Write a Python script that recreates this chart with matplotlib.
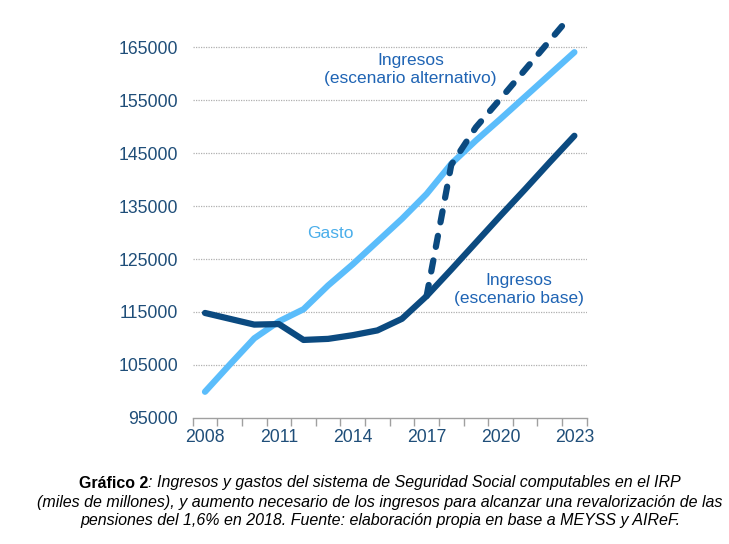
import matplotlib
matplotlib.use('Agg')
import matplotlib.pyplot as plt
import numpy as np

years = list(range(2008, 2024))
gasto = [99900, 105000, 110000, 113200, 115500, 120000, 124000, 128300,
         132600, 137300, 143000, 147400, 151500, 155700, 159900, 164100]
ingresos_base = [114800, 113700, 112600, 112700, 109700, 109900, 110600, 111500,
                 113700, 118000, 123000, 128100, 133200, 138200, 143300, 148300]
alt_years = list(range(2017, 2024))
ingresos_alt = [118000, 142800, 149900, 155300, 160800, 166300, 171800]
year_labels = ['2008', '2011', '2014', '2017', '2020', '2023']
y_ticks = [95000, 105000, 115000, 125000, 135000, 145000, 155000, 165000]

dark = '#0B4A80'
light = '#5BBDFB'
text_blue = '#1F64B4'
label_col = '#1F4E79'

plt.rcParams['font.family'] = ['Liberation Sans', 'DejaVu Sans']

fig = plt.figure(figsize=(7.29, 5.44), dpi=100)
ax = fig.add_axes([0.2643, 0.2322, 0.5405, 0.7292])

x = np.arange(len(years))
xa = np.array([years.index(y) for y in alt_years])

ax.plot(x, gasto, color=light, lw=4.5, solid_capstyle='round', zorder=3)
ax.plot(x, ingresos_base, color=dark, lw=4.5, solid_capstyle='round', zorder=4)
ax.plot(xa, ingresos_alt, color=dark, lw=4.5, ls=(0, (1.8, 2.2)),
        dash_capstyle='round', zorder=5)

ax.set_xlim(-0.5, len(years) - 0.5)
ax.set_ylim(95000, 170000)
ax.set_yticks(y_ticks)
ax.set_yticklabels([str(v) for v in y_ticks])
for v in y_ticks[1:]:
    ax.axhline(v, color='#b0b0b0', lw=0.9, ls=(0, (1, 1)), zorder=1)

ax.set_xticks([years.index(int(l)) for l in year_labels])
ax.set_xticklabels(year_labels)
ax.set_xticks(np.arange(-0.5, len(years)), minor=True)
ax.tick_params(axis='x', which='major', length=0, pad=8, labelsize=12.7, labelcolor=label_col)
ax.tick_params(axis='x', which='minor', length=6, color='#a0a0a0', width=1)
ax.tick_params(axis='y', length=0, pad=10.5, labelsize=12.7, labelcolor=label_col)

for s in ['top', 'right', 'left']:
    ax.spines[s].set_visible(False)
ax.spines['bottom'].set_color('#a0a0a0')
ax.spines['bottom'].set_linewidth(1)

ax.text(8.35, 160800, 'Ingresos\n(escenario alternativo)', color=text_blue,
        fontsize=12.5, ha='center', va='center', linespacing=1.2)
ax.text(5.1, 129800, 'Gasto', color='#4AAEEA', fontsize=12.5, ha='center', va='center')
ax.text(12.75, 119200, 'Ingresos\n(escenario base)', color=text_blue,
        fontsize=12.5, ha='center', va='center', linespacing=1.2)

# caption with bold and italic parts
fs = 11.5
fig.canvas.draw()
r = fig.canvas.get_renderer()
yc = 1 - 483 / 544
t1 = fig.text(0, yc, 'Gráfico 2', fontsize=fs, fontweight='bold', va='center')
t2 = fig.text(0, yc, ': Ingresos y gastos del sistema de Seguridad Social computables en el IRP',
              fontsize=fs, style='italic', va='center')
w1 = t1.get_window_extent(r).width
w2 = t2.get_window_extent(r).width
x0 = 380 - (w1 + w2) / 2
t1.set_x(x0 / 729)
t2.set_x((x0 + w1) / 729)
fig.text(380 / 729, 1 - 502 / 544,
         '(miles de millones), y aumento necesario de los ingresos para alcanzar una revalorización de las',
         fontsize=fs, style='italic', ha='center', va='center')
fig.text(380 / 729, 1 - 520 / 544,
         'pensiones del 1,6% en 2018. Fuente: elaboración propia en base a MEYSS y AIReF.',
         fontsize=fs, style='italic', ha='center', va='center')

fig.savefig('out.png', dpi=100)
